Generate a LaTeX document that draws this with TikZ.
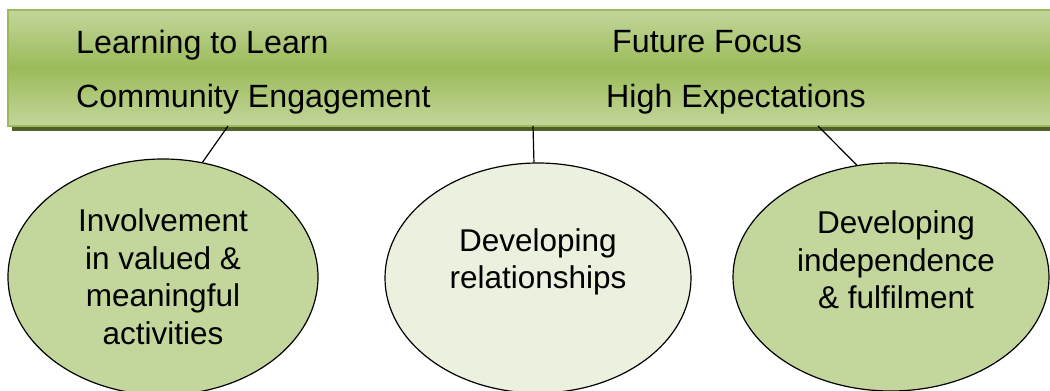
\documentclass[tikz,border=0pt]{standalone}
\usepackage{fontspec}
\setmainfont{Liberation Sans}
\usetikzlibrary{shapes.geometric}
\definecolor{barlight}{HTML}{C3D69B}
\definecolor{barmid}{HTML}{9BBB59}
\definecolor{barshadow}{HTML}{4F6228}
\definecolor{palegreen}{HTML}{EBF1DE}
\begin{document}
\begin{tikzpicture}[x=1pt, y=-1pt,
  txt/.style={font=\fontsize{31.5}{37.5}\selectfont, inner sep=0pt},
  bartxt/.style={font=\fontsize{32.2}{38}\selectfont, inner sep=0pt, anchor=base west},
  oval/.style={ellipse, draw=black, line width=1.2pt, inner sep=0pt},
  link/.style={draw=black, line width=1.2pt}]
  \clip (0, 0) rectangle (1050, 391);

  % banner across the top
  \fill [barshadow] (12, 14) rectangle (1056, 131);
  \draw [barmid, line width=2pt, top color=barlight, bottom color=barlight,
    middle color=barmid] (8, 10) rectangle (1054, 126);

  \node [bartxt] (learn) at (76, 53) {Learning to Learn};
  \node [bartxt] (comm) at (76, 107) {Community Engagement};
  \node [bartxt] (future) at (612, 52) {Future Focus};
  \node [bartxt] (high) at (606, 107) {High Expectations};

  \coordinate (c1) at (228, 126);
  \coordinate (c2) at (533, 126);
  \coordinate (c3) at (818, 126);

  % the three ovals
  \node [oval, fill=barlight, minimum width=310, minimum height=236] (inv) at (163, 277) {};
  \node [oval, fill=palegreen, minimum width=306, minimum height=230] (rel) at (538, 278) {};
  \node [oval, fill=barlight, minimum width=316, minimum height=228] (ind) at (891, 277) {};

  \draw [link] (c1) to (inv.71);
  \draw [link] (c2) to (rel.92.5);
  \draw [link] (c3) to (ind.107);

  \node [txt, align=center] (invtext) at (163, 276.5) {Involvement\\in valued \&\\meaningful\\activities};
  \node [txt, align=center] (reltext) at (538, 262) {Developing\\relationships};
  \node [txt, align=center] (indtext) at (896, 260) {Developing\\independence\\\& fulfilment};
\end{tikzpicture}
\end{document}
